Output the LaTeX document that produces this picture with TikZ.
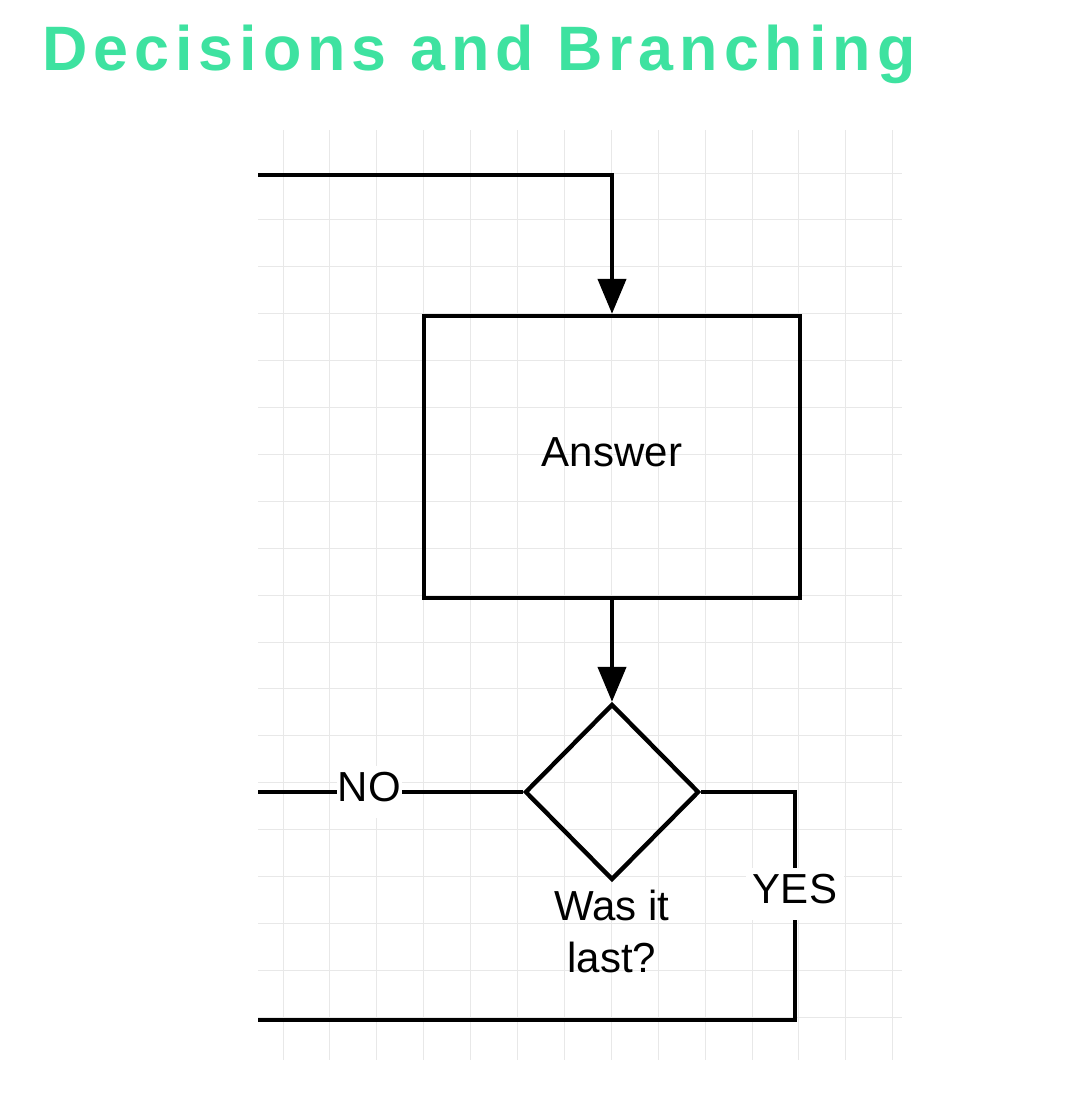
\documentclass[tikz,border=0pt]{standalone}
\usepackage{fontspec}
\setmainfont{Liberation Sans}
\newfontfamily\titlefont[LetterSpace=9.5]{Liberation Sans}
\usetikzlibrary{arrows.meta,shapes.geometric,positioning}
\definecolor{titlegreen}{RGB}{62,226,160}
\definecolor{gridgray}{RGB}{232,232,232}

\begin{document}
\begin{tikzpicture}[x=0.5pt,y=-0.5pt,
        gridline/.style={gridgray,line width=0.5pt},
        flow/.style={line width=2.2pt},
        arr/.style={flow,-{Triangle[length=17.5pt,width=14pt]}},
        lbl/.style={font=\fontsize{21}{26}\selectfont,text depth=5pt},
        box/.style={lbl,draw,line width=2.2pt,minimum width=188pt,minimum height=141pt,inner sep=0pt},
        decision/.style={draw,diamond,line width=2.2pt,minimum width=87pt,minimum height=88pt,inner sep=0pt}]
        \useasboundingbox (0,0) rectangle (1074,1094);

        \node[anchor=base west,inner sep=0pt,text=titlegreen,font=\titlefont\bfseries\fontsize{31.4}{38}\selectfont] (title) at (42,70) {Decisions and Branching};

        \foreach \i in {0,...,13}
            \draw[gridline] ({283+46.9*\i},130) -- ({283+46.9*\i},1060);
        \foreach \j in {0,...,18}
            \draw[gridline] (258,{173+46.9*\j}) -- (902,{173+46.9*\j});

        \node[box] (ans) at (612,457) {Answer};
        \node[decision] (dec) at (612,792) {};
        \node[lbl,align=center,inner sep=3.5pt,below=0pt of dec] (ask) {Was it\\last?};

        \coordinate (topin) at (258,175);
        \coordinate (noout) at (258,792);
        \coordinate (yesturn) at (795,1020);
        \coordinate (yesout) at (258,1020);

        \draw[arr] (topin) -| (ans.north);
        \draw[arr] (ans) -- (dec);
        \draw[flow] (dec.west) -- node[lbl,fill=white,inner xsep=0.5pt,pos=0.58] {NO} (noout);
        \draw[flow] (dec.east) -| node[lbl,fill=white,inner ysep=3.25pt,pos=0.724] {YES} (yesturn) -- (yesout);
    \end{tikzpicture}
\end{document}
